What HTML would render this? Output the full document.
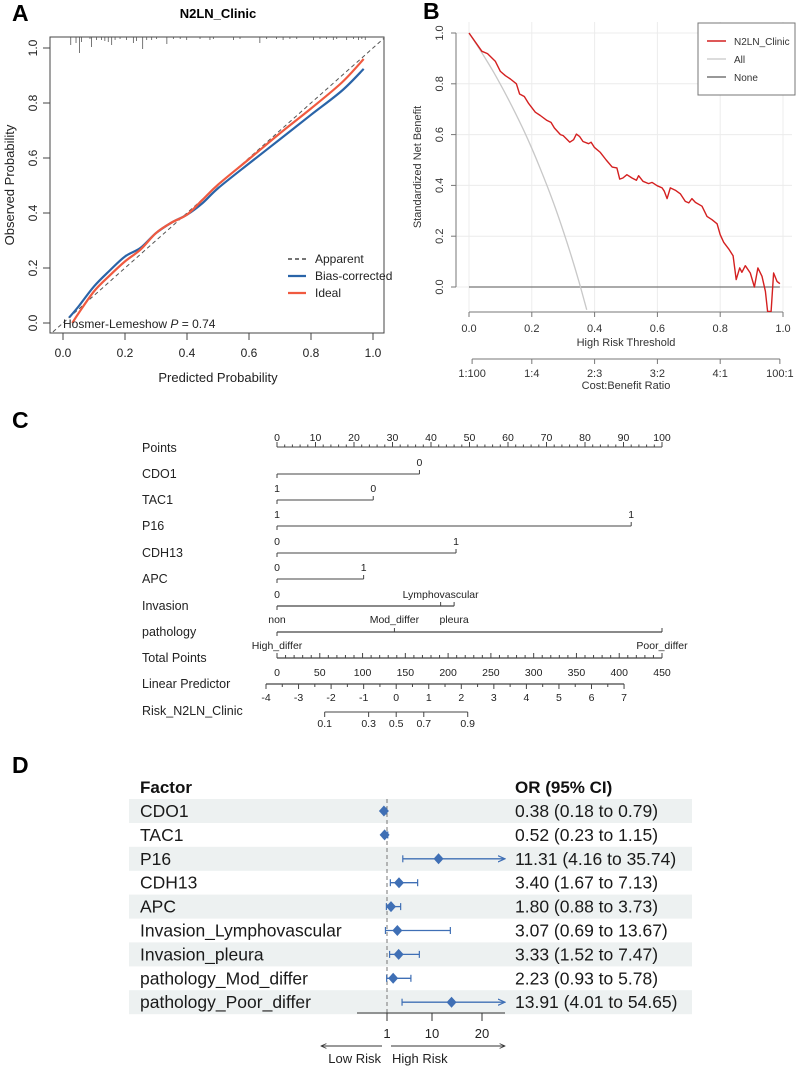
<!DOCTYPE html>
<html><head><meta charset="utf-8"><style>
html,body{margin:0;padding:0;background:#fff;}
svg{display:block;font-family:"Liberation Sans",Arial,sans-serif;}
</style></head><body>
<svg id="fig" width="797" height="1069" viewBox="0 0 797 1069" xmlns="http://www.w3.org/2000/svg">
<defs>
<clipPath id="clipA"><rect x="50" y="37" width="334" height="296"/></clipPath>
<clipPath id="clipB"><rect x="456" y="20" width="336" height="292"/></clipPath>
<marker id="arr" viewBox="0 0 10 10" refX="9" refY="5" markerWidth="6" markerHeight="6" orient="auto-start-reverse"><path d="M0,1 L9,5 L0,9" fill="none" stroke="#333" stroke-width="1.3"/></marker>
<marker id="arrB" viewBox="0 0 10 10" refX="9" refY="5" markerWidth="6" markerHeight="6" orient="auto"><path d="M0,1 L9,5 L0,9" fill="none" stroke="#3f6fb5" stroke-width="1.5"/></marker>
</defs>
<text x="12" y="21" font-size="23" font-weight="bold">A</text>
<text x="423" y="19" font-size="23" font-weight="bold">B</text>
<text x="12" y="428" font-size="23" font-weight="bold">C</text>
<text x="12" y="773" font-size="23" font-weight="bold">D</text>
<g id="gA"></g>
<g id="gB"></g>
<g id="gC"></g>
<g id="gD"></g>
</svg>
<script>
// ---------- Panel A data ----------
const calTicks=[0,0.2,0.4,0.6,0.8,1.0];
const biasPred=[0.02,0.05,0.1,0.15,0.2,0.25,0.3,0.35,0.4,0.45,0.5,0.6,0.7,0.8,0.9,0.97];
const biasObs=[0.02,0.06,0.133,0.19,0.242,0.273,0.327,0.365,0.394,0.436,0.49,0.58,0.668,0.757,0.845,0.924];
const idealPred=[0.03,0.05,0.1,0.15,0.2,0.25,0.3,0.35,0.4,0.45,0.5,0.6,0.7,0.8,0.9,0.97];
const idealObs=[0.0,0.035,0.115,0.172,0.224,0.267,0.327,0.365,0.394,0.448,0.503,0.596,0.69,0.78,0.875,0.96];
const rugPred=[0.025,0.042,0.053,0.06,0.087,0.092,0.108,0.124,0.135,0.146,0.157,0.168,0.184,0.205,0.227,0.237,0.257,0.27,0.286,0.302,0.335,0.356,0.378,0.399,0.442,0.474,0.485,0.55,0.571,0.635,0.657,0.689,0.71,0.732,0.754,0.808,0.829,0.85,0.872,0.883,0.915,0.937,0.953,0.964,0.975];
const rugLen=[8,6,16,5,2,10,3,3,4,5,8,3,2,3,6,4,12,3,3,2,7,2,2,3,2,3,2,3,2,6,2,2,3,2,2,3,2,2,3,2,3,2,3,2,3];
// ---------- Panel B data ----------
const dcaT=[0,0.041,0.059,0.084,0.10,0.116,0.132,0.151,0.161,0.176,0.19,0.211,0.227,0.248,0.261,0.272,0.291,0.30,0.321,0.333,0.342,0.352,0.363,0.381,0.389,0.399,0.418,0.437,0.456,0.471,0.48,0.49,0.503,0.519,0.533,0.54,0.554,0.572,0.583,0.599,0.615,0.622,0.631,0.641,0.657,0.673,0.689,0.70,0.71,0.721,0.742,0.758,0.774,0.79,0.80,0.811,0.827,0.841,0.851,0.862,0.869,0.88,0.896,0.909,0.92,0.933,0.944,0.951,0.962,0.97,0.981,0.99];
const dcaNB=[1.0,0.928,0.919,0.888,0.849,0.832,0.819,0.80,0.76,0.75,0.722,0.688,0.675,0.656,0.648,0.626,0.60,0.596,0.57,0.58,0.602,0.593,0.573,0.564,0.57,0.55,0.53,0.50,0.472,0.469,0.425,0.429,0.442,0.429,0.42,0.438,0.416,0.407,0.412,0.399,0.39,0.377,0.348,0.39,0.381,0.367,0.337,0.331,0.348,0.333,0.318,0.278,0.265,0.249,0.206,0.176,0.15,0.123,0.029,0.075,0.058,0.084,0.055,0.0,0.075,0.042,-0.017,-0.096,-0.096,0.055,0.022,0.013];
const allT=[0,0.025,0.05,0.075,0.1,0.125,0.15,0.175,0.2,0.225,0.25,0.275,0.3,0.325,0.35,0.375];
const allNB=[1,0.953,0.904,0.853,0.798,0.74,0.679,0.615,0.546,0.472,0.394,0.311,0.221,0.125,0.022,-0.09];
const dcaTicksX=[0,0.2,0.4,0.6,0.8,1.0];
const dcaTicksY=[0,0.2,0.4,0.6,0.8,1.0];
const cbTicks=[0.0099,0.2,0.4,0.6,0.8,0.99];
const cbLabels=["1:100","1:4","2:3","3:2","4:1","100:1"];
// ---------- Panel C data ----------
const nomoVars=["CDO1","TAC1","P16","CDH13","APC","Invasion","pathology"];
const nomoMax=[37,25,92,46.5,22.5,46,100];
const nomoInner=[null,null,null,null,null,42.5,30.5];
const lpTickVals=[-4,-3,-2,-1,0,1,2,3,4,5,6,7];
const riskVals=[0.1,0.3,0.5,0.7,0.9];
// ---------- Panel D data ----------
const fFactors=["CDO1","TAC1","P16","CDH13","APC","Invasion_Lymphovascular","Invasion_pleura","pathology_Mod_differ","pathology_Poor_differ"];
const fOR=[0.38,0.52,11.31,3.40,1.80,3.07,3.33,2.23,13.91];
const fLo=[0.18,0.23,4.16,1.67,0.88,0.69,1.52,0.93,4.01];
const fHi=[0.79,1.15,35.74,7.13,3.73,13.67,7.47,5.78,54.65];
const fTicks=[1,10,20];

const NS="http://www.w3.org/2000/svg";
function mk(parent,tag,attrs,txt){const e=document.createElementNS(NS,tag);for(const k in attrs)e.setAttribute(k,attrs[k]);if(txt!==undefined)e.textContent=txt;parent.appendChild(e);return e;}
function smooth(pts){let d="M"+pts[0][0].toFixed(2)+","+pts[0][1].toFixed(2);for(let i=0;i<pts.length-1;i++){const p0=pts[Math.max(i-1,0)],p1=pts[i],p2=pts[i+1],p3=pts[Math.min(i+2,pts.length-1)];const c1=[p1[0]+(p2[0]-p0[0])/6,p1[1]+(p2[1]-p0[1])/6],c2=[p2[0]-(p3[0]-p1[0])/6,p2[1]-(p3[1]-p1[1])/6];d+=" C"+c1[0].toFixed(2)+","+c1[1].toFixed(2)+" "+c2[0].toFixed(2)+","+c2[1].toFixed(2)+" "+p2[0].toFixed(2)+","+p2[1].toFixed(2);}return d;}

// ===== Panel A =====
(function(){
const g=document.getElementById("gA");
const xs=v=>63+v*310, ys=v=>323-v*275;
let t=mk(g,"text",{x:218,y:18,"font-size":13,"font-weight":"bold","text-anchor":"middle"},"N2LN_Clinic");


let r=mk(g,"rect",{x:50,y:37,width:334,height:296,fill:"none",stroke:"#444","stroke-width":1});


calTicks.forEach(v=>{
 let l=mk(g,"line",{x1:xs(v),x2:xs(v),y1:333,y2:340,stroke:"#444"});
 
 
 let tx=mk(g,"text",{x:xs(v),y:357,"font-size":12,"text-anchor":"middle",fill:"#222"},v.toFixed(1));
 
 
 let l2=mk(g,"line",{x1:43,x2:50,y1:ys(v),y2:ys(v),stroke:"#444"});
 
 
 let ty=mk(g,"text",{x:37,y:ys(v),"font-size":12,"text-anchor":"middle",fill:"#222",transform:"rotate(-90 37 "+ys(v)+")"},v.toFixed(1));
 
 
});
t=mk(g,"text",{x:218,y:382,"font-size":13,"text-anchor":"middle",fill:"#222"},"Predicted Probability");


t=mk(g,"text",{x:14,y:185,"font-size":13,"text-anchor":"middle",fill:"#222",transform:"rotate(-90 14 185)"},"Observed Probability");


rugPred.forEach((p,i)=>{
 let l=mk(g,"line",{x1:xs(p),x2:xs(p),y1:37,y2:37+rugLen[i],stroke:"#555","stroke-width":0.8});
 
 
});
const cg=mk(g,"g",{"clip-path":"url(#clipA)"});
let dl=mk(cg,"line",{x1:xs(-0.1),y1:ys(-0.1),x2:xs(1.2),y2:ys(1.2),stroke:"#555","stroke-width":1,"stroke-dasharray":"4,3"});


let p=mk(cg,"path",{d:smooth(biasPred.map((v,i)=>[xs(v),ys(biasObs[i])])),fill:"none",stroke:"#2a64a8","stroke-width":2.2});


p=mk(cg,"path",{d:smooth(idealPred.map((v,i)=>[xs(v),ys(idealObs[i])])),fill:"none",stroke:"#f05a40","stroke-width":2.2});


const leg=[["Apparent","#222","4,3",259],["Bias-corrected","#2a64a8","",276],["Ideal","#f05a40","",293]];
leg.forEach(e=>{
 const lg=mk(g,"g",{});
 
 
 mk(lg,"line",{x1:288,x2:306,y1:e[3],y2:e[3],stroke:e[1],"stroke-width":e[2]?1.3:2.2,"stroke-dasharray":e[2]||"none"});
 mk(lg,"text",{x:315,y:e[3]+4,"font-size":12,fill:"#222"},e[0]);
});
t=mk(g,"text",{x:63,y:328,"font-size":12,fill:"#222"});


t.innerHTML='Hosmer-Lemeshow <tspan font-style="italic">P</tspan>  =  0.74';
})();

// ===== Panel B =====
(function(){
const g=document.getElementById("gB");
const xs=v=>469+v*314, ys=v=>287-v*254;
dcaTicksX.forEach(v=>{let l=mk(g,"line",{x1:xs(v),x2:xs(v),y1:22,y2:311,stroke:"#ececec"});});
dcaTicksY.forEach(v=>{let l=mk(g,"line",{x1:456,x2:792,y1:ys(v),y2:ys(v),stroke:"#ececec"});});
let ax=mk(g,"line",{x1:xs(0),x2:xs(1),y1:312,y2:312,stroke:"#777"});


ax=mk(g,"line",{x1:456,x2:456,y1:ys(1),y2:ys(0),stroke:"#777"});


dcaTicksX.forEach(v=>{
 mk(g,"line",{x1:xs(v),x2:xs(v),y1:312,y2:317,stroke:"#777"});
 let t=mk(g,"text",{x:xs(v),y:332,"font-size":11,"text-anchor":"middle",fill:"#333"},v.toFixed(1));
 
 
});
dcaTicksY.forEach(v=>{
 mk(g,"line",{x1:451,x2:456,y1:ys(v),y2:ys(v),stroke:"#777"});
 let t=mk(g,"text",{x:443,y:ys(v),"font-size":11,"text-anchor":"middle",fill:"#333",transform:"rotate(-90 443 "+ys(v)+")"},v.toFixed(1));
 
 
});
let t=mk(g,"text",{x:626,y:346,"font-size":11,"text-anchor":"middle",fill:"#333"},"High Risk Threshold");


t=mk(g,"text",{x:421,y:167,"font-size":11,"text-anchor":"middle",fill:"#333",transform:"rotate(-90 421 167)"},"Standardized Net Benefit");


ax=mk(g,"line",{x1:xs(cbTicks[0]),x2:xs(cbTicks[5]),y1:359,y2:359,stroke:"#777"});


cbTicks.forEach((v,i)=>{
 mk(g,"line",{x1:xs(v),x2:xs(v),y1:359,y2:364,stroke:"#777"});
 let tt=mk(g,"text",{x:xs(v),y:377,"font-size":11,"text-anchor":"middle",fill:"#333"},cbLabels[i]);
 
 
});
t=mk(g,"text",{x:626,y:389,"font-size":11,"text-anchor":"middle",fill:"#333"},"Cost:Benefit Ratio");


const cg=mk(g,"g",{"clip-path":"url(#clipB)"});
let l=mk(cg,"line",{x1:xs(0),x2:xs(0.99),y1:ys(0),y2:ys(0),stroke:"#777","stroke-width":1.3});


let p=mk(cg,"path",{d:smooth(allT.map((v,i)=>[xs(v),ys(allNB[i])])),fill:"none",stroke:"#c8c8c8","stroke-width":1.3});


p=mk(cg,"path",{d:"M"+dcaT.map((v,i)=>xs(v).toFixed(1)+","+ys(dcaNB[i]).toFixed(1)).join(" L"),fill:"none",stroke:"#d42020","stroke-width":1.4,"stroke-linejoin":"round"});


const lb=mk(g,"rect",{x:698,y:23,width:97,height:72,fill:"#fff",stroke:"#777"});


[["N2LN_Clinic","#d42020",41],["All","#d0d0d0",59],["None","#777",77]].forEach(e=>{
 const lg=mk(g,"g",{});
 
 
 mk(lg,"line",{x1:707,x2:726,y1:e[2],y2:e[2],stroke:e[1],"stroke-width":1.4});
 mk(lg,"text",{x:734,y:e[2]+4,"font-size":10,fill:"#333"},e[0]);
});
})();

// ===== Panel C =====
(function(){
const g=document.getElementById("gC");
const px=v=>277+v*3.85, tpx=v=>277+v*(385/450), lpx=v=>266+(v+4)*32.55;
const fs=12.5, col="#222", lc="#444";
const rowLab=[["Points",448],["CDO1",474],["TAC1",500],["P16",526],["CDH13",553],["APC",579],["Invasion",606],["pathology",632],["Total Points",658],["Linear Predictor",684],["Risk_N2LN_Clinic",711]];
rowLab.forEach(r=>{let t=mk(g,"text",{x:142,y:r[1]+4,"font-size":fs,fill:col},r[0]);});
let a=mk(g,"line",{x1:px(0),x2:px(100),y1:447,y2:447,stroke:lc});


for(let v=0;v<=100;v+=2){mk(g,"line",{x1:px(v),x2:px(v),y1:447,y2:v%10===0?442:444.5,stroke:lc});}
for(let v=0;v<=100;v+=10){let t=mk(g,"text",{x:px(v),y:441,"font-size":10.5,"text-anchor":"middle",fill:col},v);}
const rowsY=[474,500,526,553,579,606,632];
const above=[[["0",1]],[["1",0],["0",1]],[["1",0],["1",1]],[["0",0],["1",1]],[["0",0],["1",1]],[["0",0]],[]];
nomoVars.forEach((nm,i)=>{
 const y=rowsY[i];
 let l=mk(g,"line",{x1:px(0),x2:px(nomoMax[i]),y1:y,y2:y,stroke:lc,"stroke-width":i>=5?1.3:1});
 
 
 mk(g,"line",{x1:px(0),x2:px(0),y1:y,y2:y+4,stroke:lc});
 mk(g,"line",{x1:px(nomoMax[i]),x2:px(nomoMax[i]),y1:y,y2:y-4,stroke:lc});
 if(nomoInner[i]!==null) mk(g,"line",{x1:px(nomoInner[i]),x2:px(nomoInner[i]),y1:y,y2:y-4,stroke:lc});
 above[i].forEach(a=>{let t=mk(g,"text",{x:px(a[1]?nomoMax[i]:0),y:y-8,"font-size":10.5,"text-anchor":"middle",fill:col},a[0]);});
});
const extra=[["Lymphovascular",px(nomoInner[5]),598],["non",px(0),623],["pleura",px(nomoMax[5]),623],["Mod_differ",px(nomoInner[6]),623],["High_differ",px(0),649],["Poor_differ",px(nomoMax[6]),649]];
extra.forEach(e=>{let t=mk(g,"text",{x:e[1],y:e[2],"font-size":10.5,"text-anchor":"middle",fill:col},e[0]);});
a=mk(g,"line",{x1:tpx(0),x2:tpx(450),y1:658,y2:658,stroke:lc,"stroke-width":1.3});


for(let v=0;v<=450;v+=10){mk(g,"line",{x1:tpx(v),x2:tpx(v),y1:658,y2:v%50===0?653:655,stroke:lc});}
for(let v=0;v<=450;v+=50){let t=mk(g,"text",{x:tpx(v),y:676,"font-size":10.5,"text-anchor":"middle",fill:col},v);}
a=mk(g,"line",{x1:lpx(-4),x2:lpx(7),y1:684,y2:684,stroke:lc,"stroke-width":1.3});


for(let v=-4;v<=7;v+=0.5){mk(g,"line",{x1:lpx(v),x2:lpx(v),y1:684,y2:Number.isInteger(v)?689:687,stroke:lc});}
lpTickVals.forEach(v=>{let t=mk(g,"text",{x:lpx(v),y:701,"font-size":10.5,"text-anchor":"middle",fill:col},v);});
const rx=r=>lpx(Math.log(r/(1-r)));
a=mk(g,"line",{x1:rx(riskVals[0]),x2:rx(riskVals[riskVals.length-1]),y1:712,y2:712,stroke:lc});


riskVals.forEach(v=>{mk(g,"line",{x1:rx(v),x2:rx(v),y1:712,y2:717,stroke:lc});let t=mk(g,"text",{x:rx(v),y:727,"font-size":10.5,"text-anchor":"middle",fill:col},v);});
})();

// ===== Panel D =====
(function(){
const g=document.getElementById("gD");
const xs=v=>382+v*5, XMAX=505, blue="#3f6fb5";
const rowY=i=>811+i*23.9;
fFactors.forEach((f,i)=>{
 if(i%2===0){let b=mk(g,"rect",{x:129,y:rowY(i)-12,width:563,height:24,fill:"#edf1f1"});}
});
let h=mk(g,"text",{x:140,y:793,"font-size":17,"font-weight":"bold",fill:"#111"},"Factor");


h=mk(g,"text",{x:515,y:793,"font-size":17,"font-weight":"bold",fill:"#111"},"OR (95% CI)");


let ref=mk(g,"line",{x1:xs(1),x2:xs(1),y1:799,y2:1013,stroke:"#777","stroke-dasharray":"4,3"});


fFactors.forEach((f,i)=>{
 const y=rowY(i);
 let t=mk(g,"text",{x:140,y:y+6,"font-size":17.5,fill:"#1a1a1a"},f);
 
 
 t=mk(g,"text",{x:515,y:y+6,"font-size":17.5,fill:"#1a1a1a"},fOR[i].toFixed(2)+" ("+fLo[i].toFixed(2)+" to "+fHi[i].toFixed(2)+")");
 
 
 const x1=xs(fLo[i]), clipped=xs(fHi[i])>XMAX, x2=Math.min(xs(fHi[i]),XMAX);
 let ci=mk(g,"line",{x1:x1,x2:x2,y1:y,y2:y,stroke:blue,"stroke-width":1.3});
 if(clipped) ci.setAttribute("marker-end","url(#arrB)");
 
 
 mk(g,"line",{x1:x1,x2:x1,y1:y-3.5,y2:y+3.5,stroke:blue,"stroke-width":1.2});
 if(!clipped) mk(g,"line",{x1:x2,x2:x2,y1:y-3.5,y2:y+3.5,stroke:blue,"stroke-width":1.2});
 const cx=xs(fOR[i]);
 let d=mk(g,"polygon",{points:(cx-5)+","+y+" "+cx+","+(y-5.5)+" "+(cx+5)+","+y+" "+cx+","+(y+5.5),fill:blue});
 
 
});
let ax=mk(g,"line",{x1:357,x2:505,y1:1013,y2:1013,stroke:"#333"});


fTicks.forEach(v=>{
 mk(g,"line",{x1:xs(v),x2:xs(v),y1:1013,y2:1021,stroke:"#333"});
 let t=mk(g,"text",{x:xs(v),y:1038,"font-size":13,"text-anchor":"middle",fill:"#222"},v);
 
 
});
let a1=mk(g,"line",{x1:382,x2:321,y1:1046,y2:1046,stroke:"#333","marker-end":"url(#arr)"});


a1=mk(g,"line",{x1:391,x2:505,y1:1046,y2:1046,stroke:"#333","marker-end":"url(#arr)"});


let t=mk(g,"text",{x:381,y:1063,"font-size":13,"text-anchor":"end",fill:"#222"},"Low Risk");


t=mk(g,"text",{x:392,y:1063,"font-size":13,fill:"#222"},"High Risk");


})();
</script>
</body></html>
